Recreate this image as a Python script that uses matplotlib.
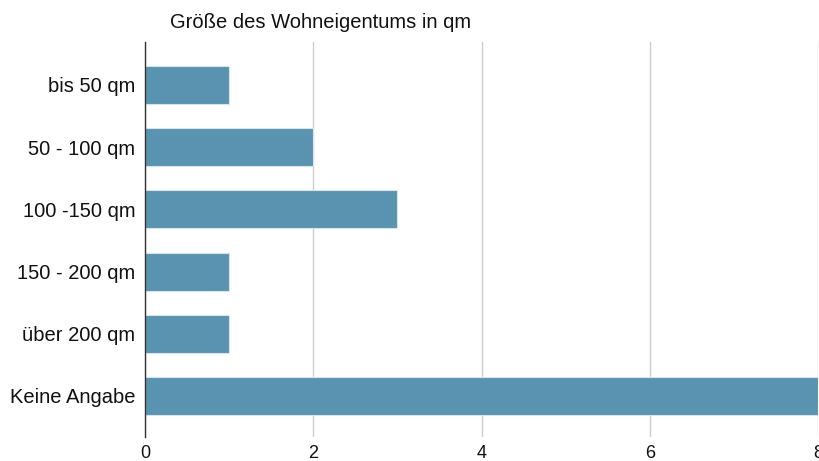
import matplotlib.pyplot as plt

categories = ["bis 50 qm", "50 - 100 qm", "100 -150 qm", "150 - 200 qm", "über 200 qm", "Keine Angabe"]
counts = [1, 2, 3, 1, 1, 8]
x_ticks = [0, 2, 4, 6, 8]

plt.rcParams['font.family'] = ['Liberation Sans', 'DejaVu Sans']

fig = plt.figure(figsize=(8.19, 4.61), dpi=100)
ax = fig.add_axes([145 / 819, 1 - 437 / 461, 673 / 819, 395 / 461])

bar_color = '#5a93b0'
ypos = list(range(len(categories)))
ax.barh(ypos, counts, height=0.61, color=bar_color, edgecolor='#d6e4ec', linewidth=0.8, zorder=3)

ax.set_xlim(0, 8)
ax.set_ylim(5.66, -0.69)
ax.set_yticks(ypos)
ax.set_yticklabels(categories, fontsize=14.5, color='#111111')
ax.set_xticks(x_ticks)
ax.set_xticklabels([str(t) for t in x_ticks], fontsize=13, color='#111111')
ax.tick_params(axis='y', length=0, pad=7)
ax.tick_params(axis='x', length=0, pad=6)

ax.grid(axis='x', color='#cccccc', linewidth=1, zorder=0)
for s in ['top', 'right', 'bottom']:
    ax.spines[s].set_visible(False)
ax.spines['left'].set_color('#333333')
ax.spines['left'].set_linewidth(1)
ax.spines['left'].set_zorder(4)

fig.text(170 / 819, 1 - 22 / 461, "Größe des Wohneigentums in qm", fontsize=14.5,
         color='#111111', ha='left', va='center')

fig.savefig("out.png", dpi=100)
